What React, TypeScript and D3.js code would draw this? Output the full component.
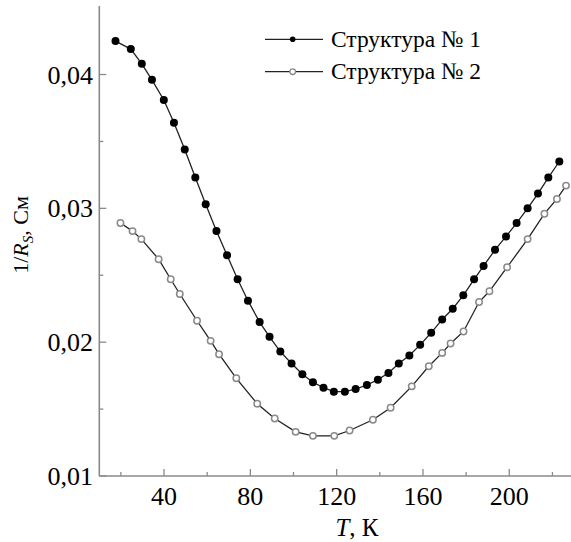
import React from "react";
import * as d3 from "d3";

const T1 = [17.5, 24.6, 29.7, 34.4, 39.9, 44.6, 49.6, 54.5, 59.3, 64.3, 69.2, 74.1, 78.9, 84.3, 88.9, 93.9, 99.1, 104.1, 109.0, 113.9, 118.7, 123.8, 128.8, 134.0, 139.1, 144.0, 148.8, 153.7, 158.7, 163.8, 168.9, 173.8, 178.7, 183.7, 188.1, 193.4, 198.5, 203.4, 208.5, 213.3, 218.1, 223.2];
const V1 = [0.0425, 0.0419, 0.0408, 0.0396, 0.0381, 0.0364, 0.0344, 0.0323, 0.0303, 0.0283, 0.0265, 0.0247, 0.0231, 0.0215, 0.0204, 0.0193, 0.0184, 0.0176, 0.0170, 0.0166, 0.0163, 0.0163, 0.0165, 0.0168, 0.0172, 0.0177, 0.0184, 0.0190, 0.0198, 0.0207, 0.0217, 0.0225, 0.0235, 0.0247, 0.0257, 0.0269, 0.0279, 0.0289, 0.0300, 0.0311, 0.0323, 0.0335];

const T2 = [19.8, 25.4, 29.5, 37.5, 43.1, 47.3, 55.3, 61.6, 65.5, 73.5, 83.2, 91.3, 101.0, 109.0, 118.9, 126.0, 136.8, 145.0, 154.8, 162.7, 168.9, 172.8, 178.8, 186.0, 190.8, 199.0, 208.5, 216.3, 222.1, 226.3];
const V2 = [0.0289, 0.0283, 0.0277, 0.0262, 0.0247, 0.0236, 0.0216, 0.0201, 0.0191, 0.0173, 0.0154, 0.0143, 0.0133, 0.0130, 0.0130, 0.0134, 0.0142, 0.0151, 0.0167, 0.0182, 0.0192, 0.0199, 0.0208, 0.0230, 0.0238, 0.0256, 0.0277, 0.0296, 0.0307, 0.0317];

const X_MAJOR = [40, 80, 120, 160, 200];
const X_MINOR = [20, 60, 100, 140, 180, 220];
const Y_MAJOR = [0.01, 0.02, 0.03, 0.04];
const Y_MINOR = [0.015, 0.025, 0.035];
const LEGEND = ["Структура № 1", "Структура № 2"];

export default function App() {
  const W = 571, H = 542;
  const x = d3.scaleLinear().domain([10, 230]).range([99.3, 574]);
  const y = d3.scaleLinear().domain([0.01, 0.045]).range([476, 7.6]);
  const s1 = T1.map((t, i) => [t, V1[i]] as [number, number]);
  const s2 = T2.map((t, i) => [t, V2[i]] as [number, number]);
  const line = d3.line<[number, number]>().x(d => x(d[0])).y(d => y(d[1]));
  const fmt = (v: number) => d3.format(".2f")(v).replace(".", ",");
  const axisColor = "#8a8a8a";
  const tstyle = { fontFamily: '"Liberation Serif", "DejaVu Serif", serif' };
  const x0 = x(10), y0 = y(0.01);
  return (
    <svg width={W} height={H} style={{ position: "absolute", left: 0, top: 0, background: "#fff" }}>
      <rect width={W} height={H} fill="#fff" />
      {/* axes */}
      <line x1={x0} x2={x0} y1={6} y2={y0} stroke={axisColor} strokeWidth={1.6} />
      <line x1={x0} x2={W} y1={y0} y2={y0} stroke={axisColor} strokeWidth={1.6} />
      {X_MAJOR.map(v => (
        <g key={"xm" + v}>
          <line x1={x(v)} x2={x(v)} y1={y0} y2={y0 - 7} stroke={axisColor} strokeWidth={1.3} />
          <text x={x(v)} y={505} textAnchor="middle" fontSize={26} fill="#000" style={tstyle}>{v}</text>
        </g>
      ))}
      {X_MINOR.map(v => (
        <line key={"xn" + v} x1={x(v)} x2={x(v)} y1={y0} y2={y0 - 4} stroke={axisColor} strokeWidth={1.3} />
      ))}
      {Y_MAJOR.map(v => (
        <g key={"ym" + v}>
          <line x1={x0} x2={x0 + 7} y1={y(v)} y2={y(v)} stroke={axisColor} strokeWidth={1.3} />
          <text x={93} y={y(v) + 9} textAnchor="end" fontSize={26} fill="#000" style={tstyle}>{fmt(v)}</text>
        </g>
      ))}
      {Y_MINOR.map(v => (
        <line key={"yn" + v} x1={x0} x2={x0 + 4} y1={y(v)} y2={y(v)} stroke={axisColor} strokeWidth={1.3} />
      ))}
      {/* axis titles */}
      <text x={357} y={536} textAnchor="middle" fontSize={25} fill="#000" style={tstyle}>
        <tspan fontStyle="italic">T</tspan>, К
      </text>
      <text transform="translate(28,235) rotate(-90)" textAnchor="middle" fontSize={22} fill="#000" style={tstyle}>
        1/<tspan fontStyle="italic">R</tspan><tspan fontStyle="italic" fontSize={15} dy={5}>S</tspan><tspan dy={-5}>, См</tspan>
      </text>
      {/* series lines */}
      <path d={line(s1) || ""} fill="none" stroke="#222" strokeWidth={1.3} />
      <path d={line(s2) || ""} fill="none" stroke="#222" strokeWidth={1.3} />
      {s1.map((d, i) => (
        <circle key={"a" + i} cx={x(d[0])} cy={y(d[1])} r={4} fill="#000" />
      ))}
      {s2.map((d, i) => (
        <circle key={"b" + i} cx={x(d[0])} cy={y(d[1])} r={3.2} fill="#fff" stroke="#8a8a8a" strokeWidth={1.5} />
      ))}
      {/* legend */}
      <line x1={265} x2={323} y1={39.3} y2={39.3} stroke="#222" strokeWidth={1.3} />
      <circle cx={292.7} cy={39.3} r={2.8} fill="#000" />
      <text x={331} y={46.5} fontSize={23.5} fill="#000" style={tstyle}>{LEGEND[0]}</text>
      <line x1={265} x2={323} y1={71.7} y2={71.7} stroke="#222" strokeWidth={1.3} />
      <circle cx={292.7} cy={71.7} r={2.8} fill="#fff" stroke="#8a8a8a" strokeWidth={1.3} />
      <text x={331} y={79} fontSize={23.5} fill="#000" style={tstyle}>{LEGEND[1]}</text>
    </svg>
  );
}
